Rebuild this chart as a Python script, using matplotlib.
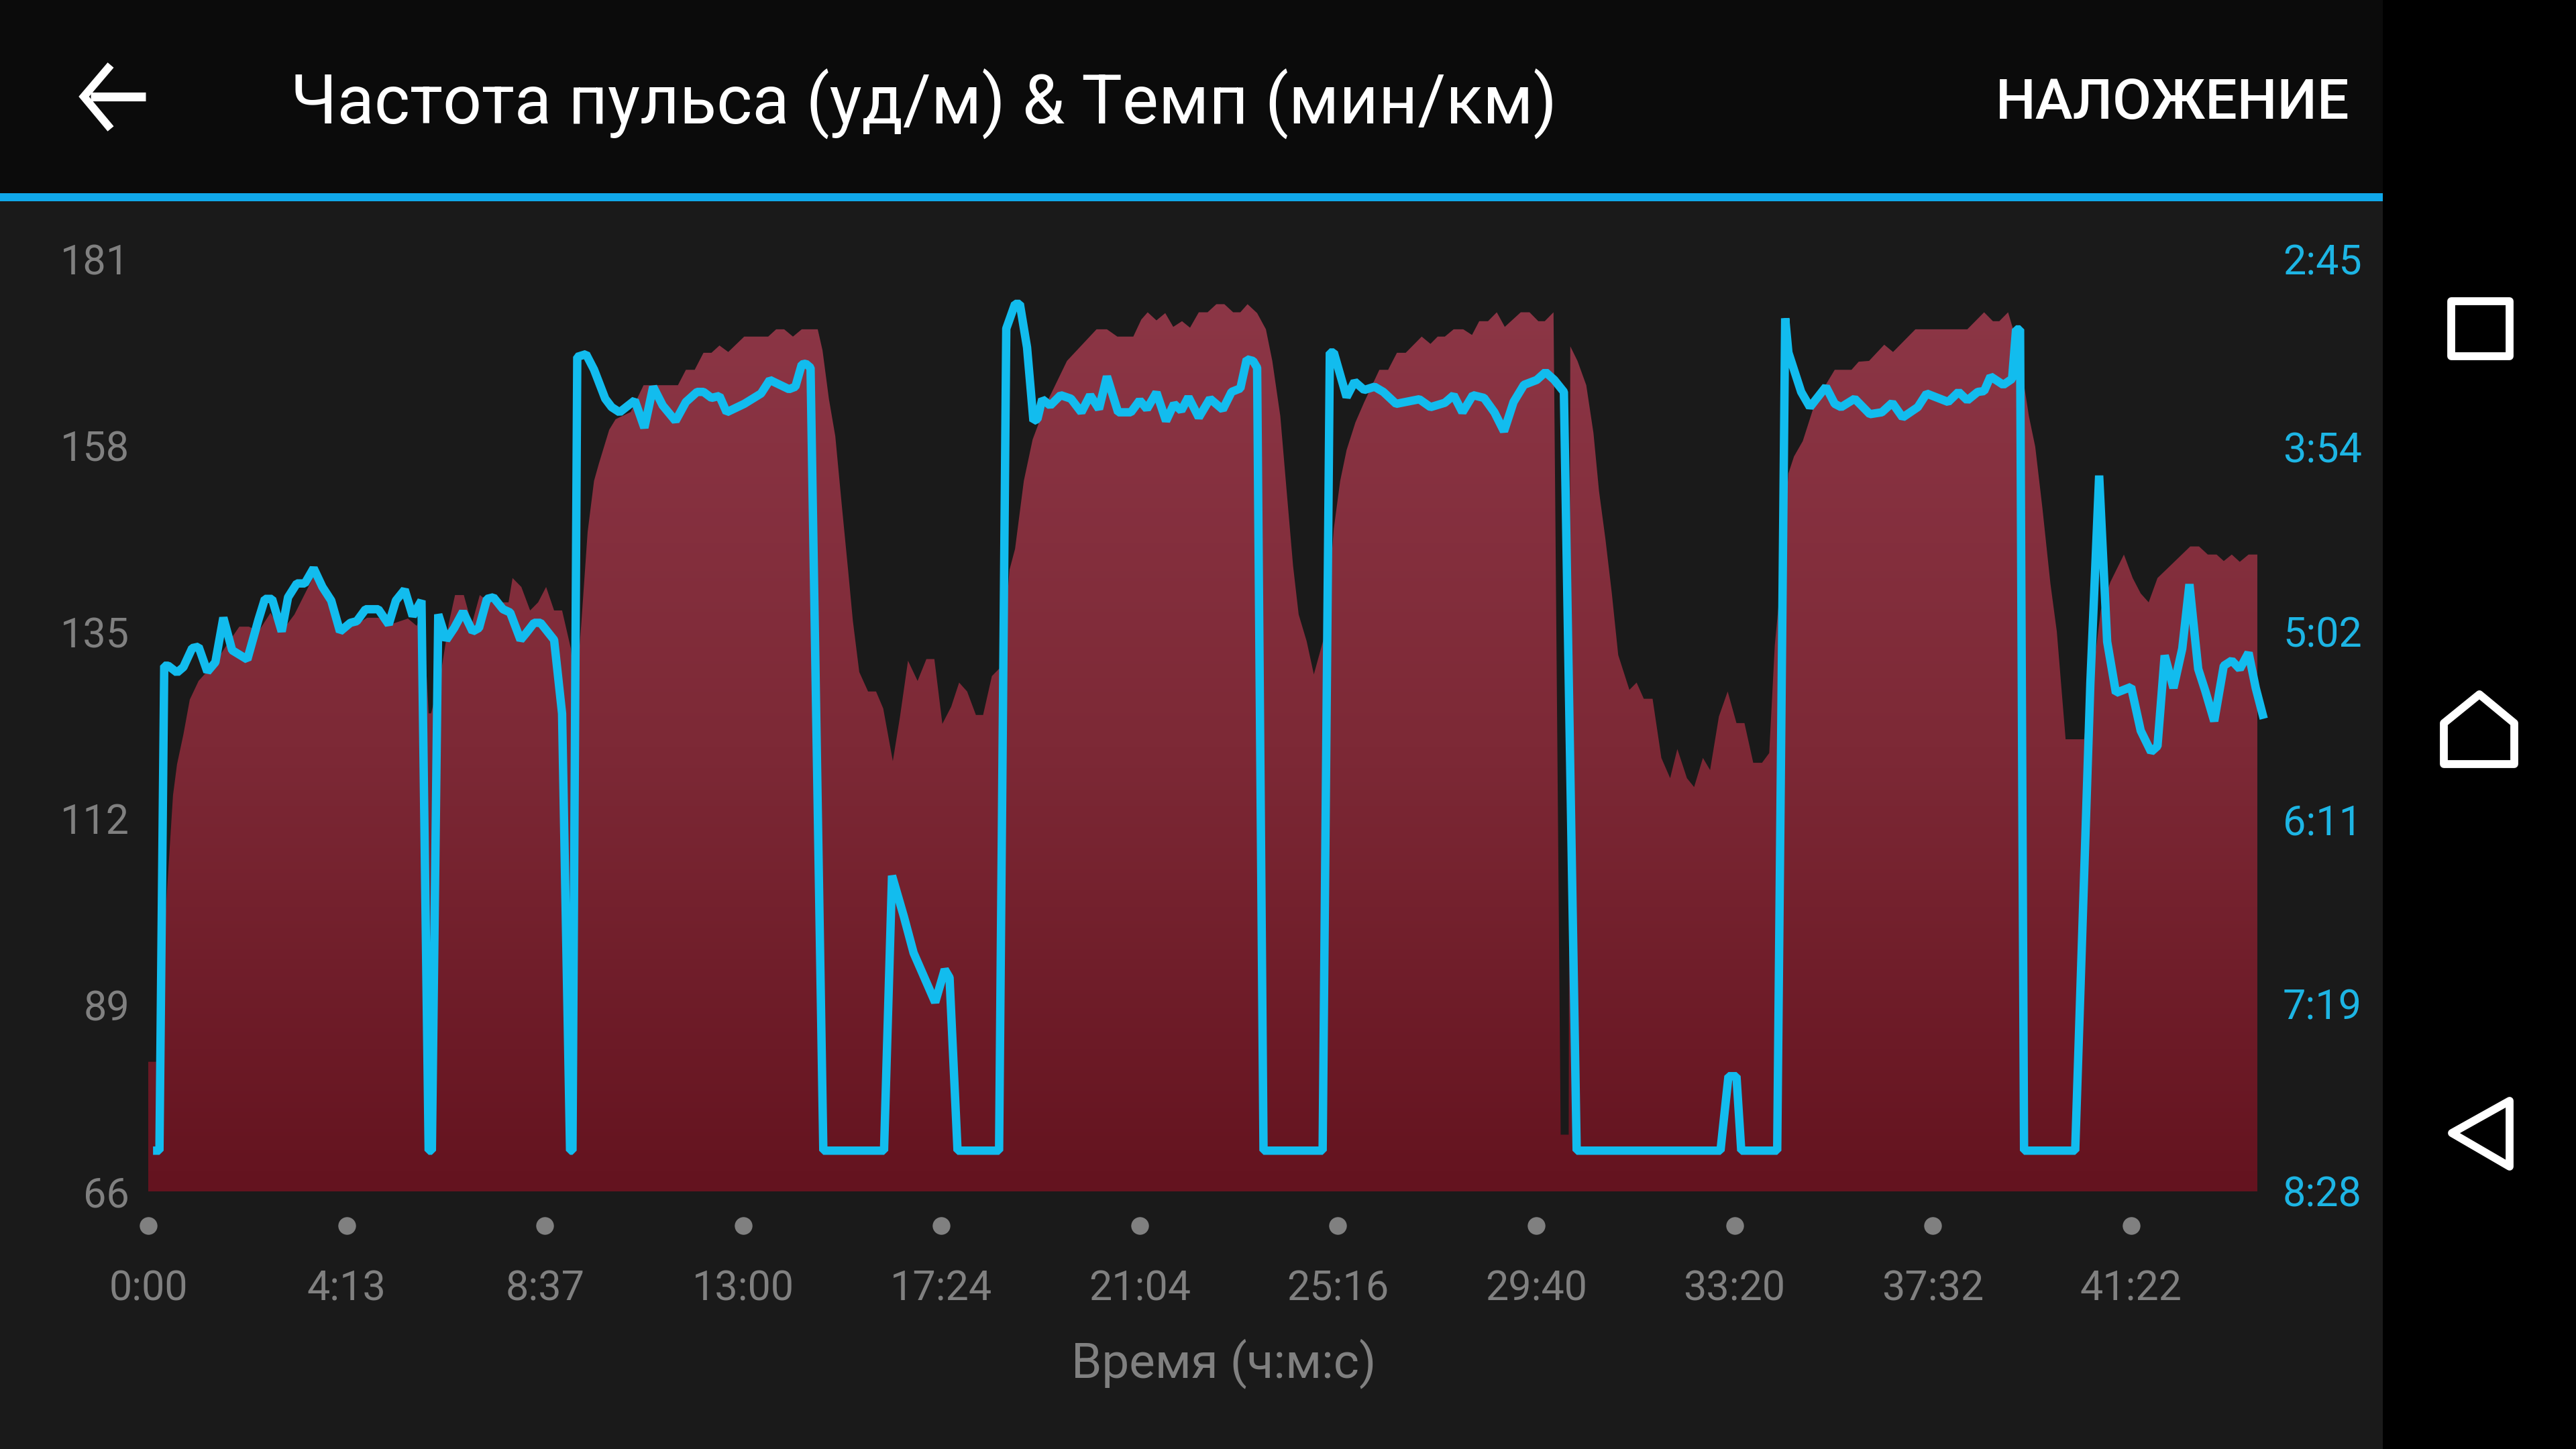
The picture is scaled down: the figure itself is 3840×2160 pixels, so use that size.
import numpy as np
import matplotlib
matplotlib.use('Agg')
import matplotlib.pyplot as plt
from matplotlib.colors import LinearSegmentedColormap
from matplotlib.patches import Rectangle, Polygon

plt.rcParams['font.family'] = ['Roboto', 'DejaVu Sans']

# Heart rate (bpm), time axis in seconds of plotted position
hr_time = [0, 10, 31, 36, 44, 52, 63, 84, 98, 114, 126, 138, 153, 167, 183, 207, 226, 240, 261, 274, 288, 304, 325, 336, 344,
           351, 354, 365, 376, 384, 395, 405, 415, 427, 451, 456, 467, 478, 488, 498, 508, 518, 529, 535, 542, 550, 558,
           564, 577, 585, 604, 620, 663, 673, 684, 695, 705, 715, 726, 746, 776, 786, 796, 807, 818, 838, 844, 852, 860,
           868, 876, 882, 890, 901, 911, 920, 932, 941, 951, 963, 974, 984, 994, 1005, 1015, 1025, 1036, 1045, 1056, 1069,
           1078, 1085, 1096, 1107, 1123, 1150, 1187, 1200, 1213, 1233, 1243, 1251, 1262, 1273, 1283, 1294, 1304, 1315, 1326,
           1337, 1347, 1358, 1367, 1376, 1388, 1399, 1407, 1417, 1425, 1433, 1440, 1450, 1459, 1471, 1476, 1484, 1492, 1500,
           1511, 1522, 1541, 1552, 1563, 1574, 1594, 1605, 1614, 1623, 1634, 1646, 1657, 1666, 1677, 1688, 1698, 1718, 1729,
           1740, 1748, 1759, 1761, 1768, 1778, 1780, 1789, 1800, 1809, 1816, 1824, 1832, 1840, 1854, 1863, 1872, 1883, 1894,
           1905, 1914, 1926, 1935, 1946, 1955, 1966, 1977, 1988, 1998, 2009, 2020, 2029, 2036, 2044, 2053, 2060, 2071, 2084,
           2097, 2111, 2132, 2141, 2154, 2173, 2184, 2212, 2277, 2298, 2309, 2317, 2328, 2334, 2344, 2354, 2362, 2371, 2381,
           2389, 2400, 2423, 2433, 2444, 2456, 2473, 2484, 2494, 2504, 2515, 2535, 2556, 2567, 2578, 2589, 2598, 2608, 2618,
           2629, 2640]
hr_values = [82, 82, 114.9, 118.7, 122.4, 126.7, 129, 131.3, 133.4, 135.7, 135.7, 135.1, 137.4, 135.1, 137.2, 141.9, 139.3, 135.1,
             136, 136.8, 136.8, 136, 136.7, 135.8, 137.7,
             125, 125, 129.2, 136, 139.6, 139.6, 136, 139.6, 138.7, 138.7, 141.7, 140.6, 137.7, 138.7, 140.6, 137.7, 137.7, 133,
             127.1, 136, 147.4, 153.7,
             155.8, 160, 161.3, 162.2, 165.5, 165.5, 167.4, 167.4, 169.5, 169.5, 170.4, 169.6, 171.5, 171.5, 172.4, 172.4, 171.5,
             172.4, 172.4, 169.8, 163.8, 159.2,
             150.8, 142.7, 136.4, 130.1, 127.7, 127.7, 125.6, 119.1, 124.6, 131.5, 129, 131.7, 131.7, 123.7, 125.8, 128.8, 127.7,
             124.8, 124.8, 129.6, 130.9,
             142.7, 145.3, 153.7, 158.8, 163, 168.5, 172.4, 172.4, 171.5, 171.5, 173.6, 174.5, 173.5, 174.4, 172.7, 173.4, 172.6,
             174.5, 174.5,
             175.5, 175.5, 174.5, 174.5, 175.5, 174.4, 172.4, 168.5, 161.7, 152.4, 143.2, 137.2, 133.9, 129.8, 134.1, 137.7, 147.8,
             153.7, 157.5,
             160.9, 163.4, 167.4, 167.4, 169.5, 169.5, 171.5, 170.6, 171.5, 171.5, 172.4, 172.4, 171.7, 173.4, 173.4, 174.5, 172.7,
             174.5, 174.5,
             173.4, 173.4, 174.5, 152.9, 73, 73, 170.3, 168.5, 165.5, 159.6, 152.4, 146.5, 139.8, 132.2, 127.9, 128.8, 126.8, 126.8,
             119.5,
             117, 120.6, 117, 115.9, 119.5, 118, 124.6, 127.7, 123.8, 123.8, 118.9, 118.9, 120.1, 133.4, 141.9, 154.6, 156.7, 158.6,
             162.6,
             165.1, 167.4, 167.4, 168.4, 168.5, 170.5, 169.6, 172.4, 172.4, 174.5, 173.4, 173.4, 174.5, 172.5, 168.1, 161.7, 157.9,
             150.3, 141,
             135.1, 121.8, 121.8, 128.8, 137.7, 141.2, 144.6, 141.7, 139.8, 138.7, 141.7, 143.6, 145.6, 145.6, 144.6, 144.6, 143.8,
             144.6, 143.7,
             144.6, 144.6]

# Pace (seconds per km)
pace_time = [6, 14, 20, 25, 36, 44, 55, 63, 74, 84, 94, 105, 124, 138, 146, 155, 167, 175, 186, 196, 207, 218, 229, 240, 253, 261,
             272, 288, 301, 310, 321, 331, 342, 351, 355, 363, 373, 383, 394, 406, 414, 424, 432, 444, 453, 466, 473, 483, 491,
             508, 518, 528, 531, 537, 548, 558, 572, 580, 590, 609, 621, 632, 644, 660, 673, 687, 695, 705, 715, 724, 746, 767,
             778, 802, 810, 818, 823, 829, 845, 921, 931, 946, 958, 976, 985, 997, 1003, 1013, 1065, 1074, 1085, 1091, 1100, 1108,
             1113, 1119, 1129, 1142, 1155, 1168, 1179, 1190, 1200, 1214, 1230, 1241, 1250, 1262, 1274, 1284, 1293, 1302, 1315,
             1329, 1345, 1356, 1367, 1375, 1383, 1388, 1396, 1470, 1479, 1484, 1500, 1510, 1522, 1535, 1546, 1562, 1591, 1605,
             1623, 1634, 1645, 1658, 1672, 1685, 1697, 1709, 1722, 1738, 1749, 1760, 1772, 1788, 1968, 1978, 1988, 1994, 2039,
             2049, 2053, 2069, 2080, 2100, 2111, 2119, 2136, 2155, 2170, 2183, 2196, 2215, 2226, 2253, 2266, 2277, 2290, 2298,
             2306, 2322, 2333, 2338, 2343, 2348, 2412, 2431, 2442, 2452, 2463, 2482, 2494, 2507, 2515, 2524, 2535, 2546, 2555,
             2566, 2575, 2586, 2598, 2608, 2618, 2629, 2638, 2648]
pace_values = [493, 493, 314.5, 314.5, 317, 315, 308, 307.5, 316.7, 313.2, 296.8, 308.8, 312.2, 297.5, 289.9, 289.9, 301.9, 289.3,
               284.2, 284.2, 278.6, 285.5, 290.5, 301.9, 298.7, 298.1,
               293.7, 293.7, 299.3, 290.5, 286.5, 296.2, 290.5, 493, 493, 295.6, 305, 300.6, 294.6, 301.9, 300.6, 289.9, 289.3,
               293.7, 294.9, 305, 302.5, 298.7, 298.7,
               305, 332.1, 493, 493, 200.8, 199.8, 205.5, 216.2, 219.3, 221.2, 216.8, 226.9, 211.8, 218.7, 224.4, 217.4, 213.7,
               213.7, 215.9, 215.2, 221.2, 218.1, 214.3,
               209.3, 212.7, 211.8, 203.6, 203.3, 204.8, 493, 493, 391.8, 407, 420.2, 432.3, 438.4, 426.3, 429.3, 493, 493, 190.4,
               181.3, 181.3, 197.3, 224.4,
               223.7, 216.4, 218.7, 214.9, 216.2, 221.2, 214.9, 220, 208, 221.2, 221.2, 216.8, 220, 213.9, 224.4, 218.1, 220.6,
               215.6, 223.1,
               216.2, 220.2, 213.7, 212.4, 201.7, 202.3, 204.8, 493, 493, 199.2, 199.2, 215.6, 209.9, 213, 211.8, 213.7, 218.1,
               216.4, 219.3,
               217.7, 214.9, 221.2, 214.9, 215.9, 221.2, 228.2, 217.4, 211.1, 209.3, 206.4, 209.3, 213.7, 493, 493, 465.6, 465.6,
               493, 493,
               186.6, 199.2, 213.7, 219.3, 211.8, 218.1, 219.3, 216.2, 221.9, 221.2, 217.7, 223.1, 219.3, 214.3, 217.4, 213.7,
               216.8, 213.7, 213.4,
               208, 211.1, 208.9, 190.7, 190.7, 493, 493, 320.8, 244.5, 305.6, 324.5, 322.3, 338.4, 346.2, 344.1, 310.7, 322.7,
               308.2, 284.5,
               315.7, 323.9, 334.9, 314.5, 312.6, 315.7, 309.7, 322.7, 334]

x_ticks = [0, 248.2, 496.4, 744.6, 992.8, 1241, 1489.2, 1737.4, 1985.6, 2233.8, 2482]
x_labels = ['0:00', '4:13', '8:37', '13:00', '17:24', '21:04', '25:16', '29:40', '33:20', '37:32', '41:22']
hr_ticks = [66, 89, 112, 135, 158, 181]
pace_ticks = [508, 439, 371, 302, 234, 165]
pace_labels = ['8:28', '7:19', '6:11', '5:02', '3:54', '2:45']

TITLE = 'Частота пульса (уд/м) & Темп (мин/км)'
ACTION = 'НАЛОЖЕНИЕ'
X_TITLE = 'Время (ч:м:с)'

BG = '#1a1a1a'
GREY = '#808080'
CYAN = '#12bcee'
TICK_CYAN = '#1db5e4'

W, H = 3840, 2160
fig = plt.figure(figsize=(W / 100, H / 100), dpi=100, facecolor=BG)

# screen chrome, in pixel coordinates
bg = fig.add_axes([0, 0, 1, 1])
bg.set_xlim(0, W)
bg.set_ylim(H, 0)
bg.axis('off')
bg.add_patch(Rectangle((0, 0), 3552, 288, color='#0b0b0b', lw=0))
bg.add_patch(Rectangle((0, 288), 3552, 12, color='#10a8ea', lw=0))
bg.add_patch(Rectangle((3552, 0), 288, H, color='#000000', lw=0))

# back arrow
bg.plot([217, 135], [144, 144], color='white', lw=9.5, solid_capstyle='butt')
bg.plot([165, 125, 165], [97, 144, 192], color='white', lw=8.5, solid_joinstyle='miter', solid_capstyle='butt')

bg.text(433, 155, TITLE, color='white', fontsize=73.2, va='center', ha='left')
bg.text(3502, 154, ACTION, color='white', fontsize=60.5, va='center', ha='right', fontweight='medium')

# nav bar icons
bg.add_patch(Rectangle((3654, 449), 87, 82, fill=False, ec='white', lw=8.5, joinstyle='round'))
bg.add_patch(Polygon([[3643, 1078], [3696, 1035], [3748, 1078], [3748, 1139], [3643, 1139]], closed=True, fill=False, ec='white', lw=8.5, joinstyle='round'))
bg.add_patch(Polygon([[3741, 1641], [3741, 1739], [3655, 1689]], closed=True, fill=False, ec='white', lw=8.5, joinstyle='round'))

# chart axes: heart rate on the left, pace on the right
left, right, top, bottom = 221, 3400, 387, 1776
ax = fig.add_axes([left / W, 1 - bottom / H, (right - left) / W, (bottom - top) / H])
ax.patch.set_alpha(0)
x_max = (right - left) * 0.8397
ax.set_xlim(0, x_max)
ax.set_ylim(66, 181)
for s in ax.spines.values():
    s.set_visible(False)

ax.set_yticks(hr_ticks)
ax.set_yticklabels([str(v) for v in hr_ticks], color=GREY, fontsize=44)
ax.tick_params(axis='y', length=0, pad=20)
ax.set_xticks(x_ticks)
ax.set_xticklabels(x_labels, color=GREY, fontsize=44)
ax.tick_params(axis='x', length=0, pad=84)
ax.set_xlabel(X_TITLE, color=GREY, fontsize=52.5)
ax.xaxis.set_label_coords((1824 - left) / (right - left), -(2033 - bottom) / (bottom - top), transform=ax.transAxes)
ax.xaxis.label.set_va('center')

# gradient area for the heart rate
poly = ax.fill_between(hr_time, hr_values, 66, color='none', lw=0)
cmap = LinearSegmentedColormap.from_list('hr', ['#8c3646', '#7d2936', '#64131f'])
grad = np.linspace(0, 1, 256).reshape(-1, 1)
im = ax.imshow(grad, extent=[0, x_max, 66, 175.5], aspect='auto', cmap=cmap, zorder=1, origin='upper')
im.set_clip_path(poly.get_paths()[0], transform=ax.transData)
ax.set_xlim(0, x_max)
ax.set_ylim(66, 181)

# dots under the axis
ax.plot(x_ticks, [-0.0367] * len(x_ticks), 'o', color=GREY, ms=19, mew=0, clip_on=False, transform=ax.get_xaxis_transform())

pace_ax = ax.twinx()
pace_ax.set_ylim(508, 165)
for s in pace_ax.spines.values():
    s.set_visible(False)
pace_ax.set_yticks(pace_ticks)
pace_ax.set_yticklabels(pace_labels, color=TICK_CYAN, fontsize=44, ha='right')
pace_ax.tick_params(axis='y', length=0, pad=87)
pace_ax.plot(pace_time, pace_values, color=CYAN, lw=9, solid_joinstyle='bevel', solid_capstyle='butt', zorder=3)

fig.savefig('out.png', dpi=100, facecolor=fig.get_facecolor())
